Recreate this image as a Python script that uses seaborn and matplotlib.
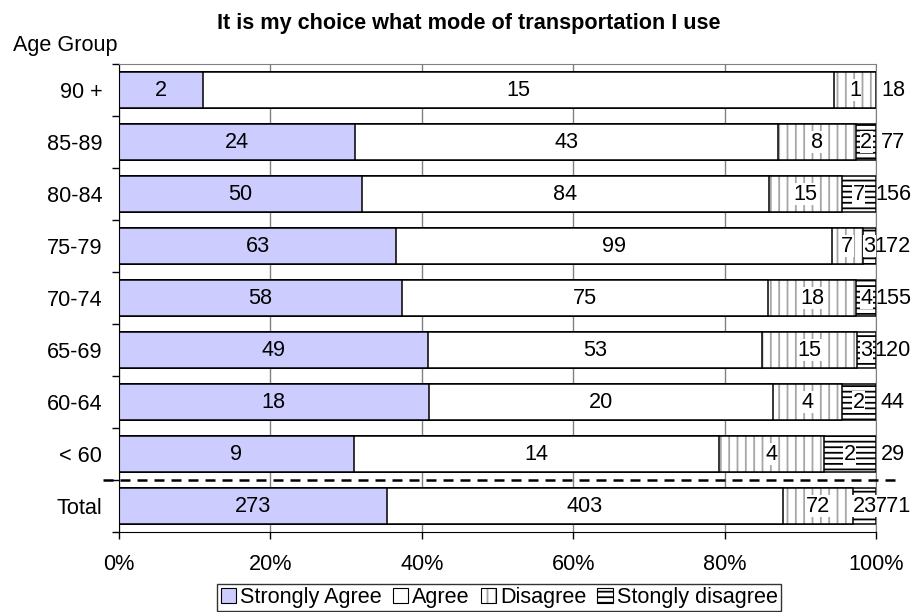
import numpy as np
import pandas as pd
import matplotlib
matplotlib.use("Agg")
import matplotlib.pyplot as plt
import seaborn as sns
from matplotlib.patches import Patch
from matplotlib.colors import to_rgba

############################
# data (counts per age group)
groups = ['90 +', '85-89', '80-84', '75-79', '70-74', '65-69', '60-64', '< 60', 'Total']
strongly_agree = [2, 24, 50, 63, 58, 49, 18, 9, 273]
agree = [15, 43, 84, 99, 75, 53, 20, 14, 403]
disagree = [1, 8, 15, 7, 18, 15, 4, 4, 72]
strongly_disagree = [0, 2, 7, 3, 4, 3, 2, 2, 23]
responses = ['Strongly Agree', 'Agree', 'Disagree', 'Stongly disagree']
xtick_labels = ['0%', '20%', '40%', '60%', '80%', '100%']
title = 'It is my choice what mode of transportation I use'

############################
plt.rcParams['font.family'] = ['Liberation Sans', 'DejaVu Sans']
plt.rcParams['hatch.linewidth'] = 1.3
FS = 15.6

counts = pd.DataFrame({responses[0]: strongly_agree, responses[1]: agree,
                       responses[2]: disagree, responses[3]: strongly_disagree},
                      index=groups)
totals = counts.sum(axis=1)
pct = counts.div(totals, axis=0)
cum = pct.cumsum(axis=1)

fills = ['#ccccff', 'white', 'white', 'white']
hatches = [None, None, '||', '---']
hatch_cols = ['0.65', '0.65', '0.65', 'black']

fig = plt.figure(figsize=(9.23, 6.12), dpi=100)
ax = fig.add_axes([0.1289, 0.1307, 0.8201, 0.7647])

# stacked bars: draw cumulative totals from widest to narrowest
for k in range(3, -1, -1):
    col = responses[k]
    sns.barplot(x=cum[col].values, y=groups, orient='h', color=fills[k],
                saturation=1, width=0.68, hatch=hatches[k],
                edgecolor=hatch_cols[k], linewidth=0, ax=ax, zorder=2)
    sns.barplot(x=cum[col].values, y=groups, orient='h', color='black',
                fill=False, width=0.68, linewidth=1.1, ax=ax, zorder=2)

# value labels
for i, g in enumerate(groups):
    for k, col in enumerate(responses):
        c = counts.loc[g, col]
        if c == 0:
            continue
        xc = cum.loc[g, col] - pct.loc[g, col] / 2
        bb = None
        if hatches[k]:
            bb = dict(boxstyle='square,pad=0.02', fc='white', ec='none')
        ax.text(xc, i, str(c), ha='center', va='center', fontsize=FS,
                bbox=bb, zorder=5)
    ax.text(1.0225, i, str(totals[g]), ha='center', va='center',
            fontsize=FS, clip_on=False)

# dashed separator above Total
ax.plot([-0.021, 1.028], [7.5, 7.5], color='black', lw=1.8,
        dashes=(4, 2.8), clip_on=False, zorder=6)

ax.set_xlim(0, 1)
ax.set_ylim(8.5, -0.5)
ax.set_xticks(np.linspace(0, 1, 6))
ax.set_xticklabels(xtick_labels, fontsize=FS)
ax.set_yticks(range(len(groups)))
ax.set_yticklabels(groups, fontsize=FS)
ax.set_yticks(np.arange(-0.5, len(groups)), minor=True)
ax.tick_params(axis='y', which='major', length=0, pad=12)
ax.tick_params(axis='y', which='minor', length=5, width=1, direction='out')
ax.tick_params(axis='x', length=5, width=1, direction='out', pad=11)
ax.set_xlabel('')
ax.set_ylabel('')
ax.xaxis.grid(True, color='0.5', lw=1)
ax.set_axisbelow(True)
for s in ['top', 'right']:
    ax.spines[s].set_color('0.5')
for s in ['left', 'bottom']:
    ax.spines[s].set_color('black')

fig.text(0.508, 0.962, title, ha='center', va='center', fontsize=FS,
         fontweight='bold')
fig.text(13 / 923, 1 - 45 / 612, 'Age Group', ha='left', va='center',
         fontsize=FS)

# legend
handles = []
for k in range(4):
    p = Patch(facecolor=fills[k], edgecolor='black', hatch=hatches[k], lw=0.8)
    p._hatch_color = to_rgba(hatch_cols[k])
    handles.append(p)
leg = fig.legend(handles, responses, loc='center', ncol=4,
                 bbox_to_anchor=(0.541, 0.024), fontsize=FS, frameon=True,
                 fancybox=False, edgecolor='black', borderpad=0.15,
                 handlelength=0.7, handleheight=0.7, handletextpad=0.2,
                 columnspacing=0.5, borderaxespad=0)
leg.get_frame().set_linewidth(1)

fig.savefig('out.png', dpi=100)
